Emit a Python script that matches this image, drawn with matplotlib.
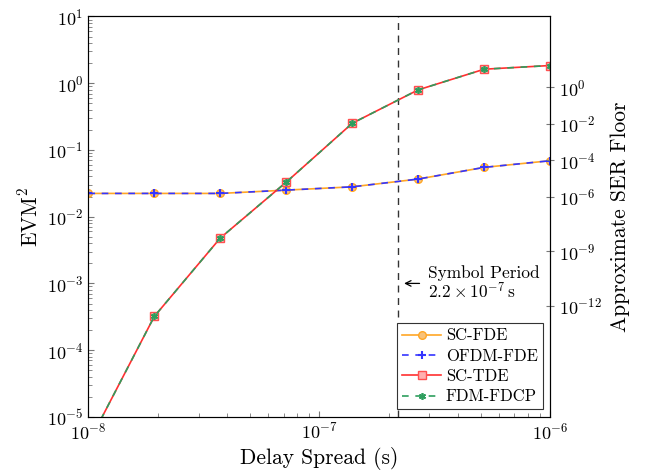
import matplotlib
matplotlib.use("Agg")
import matplotlib.pyplot as plt
from matplotlib.ticker import LogLocator, NullLocator, LogFormatterSciNotation

plt.rcParams['font.family'] = 'cmr10'
plt.rcParams['mathtext.fontset'] = 'cm'
plt.rcParams['axes.formatter.use_mathtext'] = True

# delay spread (s)
delay = [1.0e-8, 1.93e-8, 3.73e-8, 7.2e-8, 1.39e-7, 2.68e-7, 5.18e-7, 1.0e-6]
# EVM^2 per equaliser
sc_fde = [0.0223, 0.0223, 0.0223, 0.0250, 0.0280, 0.0366, 0.0548, 0.0689]
ofdm_fde = [0.0223, 0.0223, 0.0223, 0.0250, 0.0280, 0.0366, 0.0548, 0.0689]
sc_tde = [4.0e-6, 3.2e-4, 4.8e-3, 0.033, 0.251, 0.794, 1.62, 1.84]
fdm_fdcp = [4.0e-6, 3.2e-4, 4.8e-3, 0.033, 0.251, 0.794, 1.62, 1.84]

symbol_period = 2.2e-7
ser_ticks = [1e0, 1e-2, 1e-4, 1e-6, 1e-9, 1e-12]

fig = plt.figure(figsize=(6.45, 4.7), dpi=100)
ax = fig.add_axes([0.137, 0.113, 0.716, 0.852])

ax.plot(delay, sc_fde, color='#ffa726', lw=1.2, marker='o', ms=5.5,
        mfc='#f8c27a', mec='#ffa726', label='SC-FDE')
ax.plot(delay, ofdm_fde, color='#3535ff', lw=1.2, ls=(0, (4, 4)), marker='+',
        ms=6, mew=1.5, label='OFDM-FDE')
ax.plot(delay, sc_tde, color='#ff3030', lw=1.2, marker='s', ms=5.5,
        mfc='#ffb0b0', mec='#ff5050', label='SC-TDE')
ax.plot(delay, fdm_fdcp, color='#2e9e5e', lw=1.2, ls=(0, (4, 4)), marker=(6, 2, 0),
        ms=5, mew=1.2, label='FDM-FDCP')

ax.axvline(symbol_period, color='#333333', lw=1.0, ls=(0, (5, 4)), zorder=1)
ax.annotate('', xy=(symbol_period * 1.03, 1.0e-3), xytext=(symbol_period * 1.27, 1.0e-3),
            arrowprops=dict(arrowstyle='->', color='black', lw=0.9))
ax.text(symbol_period * 1.34, 1.0e-3, 'Symbol Period\n$2.2 \\times 10^{-7}\\,\\mathrm{s}$',
        fontsize=12.5, va='center', ha='left', linespacing=1.0)

ax.set_xscale('log')
ax.set_yscale('log')
ax.set_xlim(1e-8, 1e-6)
ax.set_ylim(1e-5, 1e1)
ax.set_xlabel('Delay Spread (s)', fontsize=15.5, labelpad=3)
ax.set_ylabel('EVM$^2$', fontsize=15.5, labelpad=4)

ax.yaxis.set_minor_locator(LogLocator(base=10, subs=range(2, 10), numticks=20))
ax.xaxis.set_minor_locator(LogLocator(base=10, subs=range(2, 10), numticks=20))
ax.tick_params(which='both', direction='in', color='#777777', top=False, right=False,
               labelsize=13)
ax.tick_params(which='major', length=4.5, width=0.8)
ax.tick_params(which='minor', length=3, width=0.6)
ax.spines['left'].set_color('#555555')
ax.spines['bottom'].set_color('#555555')

leg = ax.legend(loc='lower right', fontsize=12, frameon=True, fancybox=False,
                edgecolor='#333333', framealpha=1, handlelength=2.3,
                handletextpad=0.3, borderpad=0.3, labelspacing=0.3,
                borderaxespad=0.45)
leg.get_frame().set_linewidth(0.8)
leg.set_zorder(5)

# approximate SER floor scale on the right
ax2 = ax.twinx()
ax2.set_yscale('log')
ax2.set_ylim(10 ** -18.09, 10 ** 3.90)
ax2.set_yticks(ser_ticks)
ax2.yaxis.set_major_formatter(LogFormatterSciNotation())
ax2.yaxis.set_minor_locator(NullLocator())
ax2.tick_params(direction='inout', length=6, width=0.8, color='#777777', labelsize=13)
ax2.set_ylabel('Approximate SER Floor', fontsize=15.5, labelpad=6)

fig.savefig('out.png', dpi=100)
